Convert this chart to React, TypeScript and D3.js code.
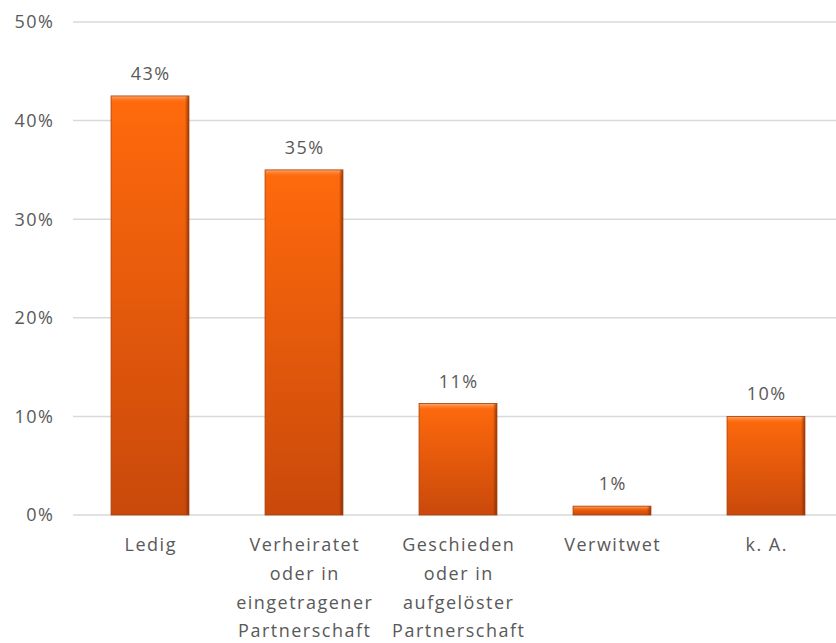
import React from "react";
import * as d3 from "d3";

const categories: string[][] = [
  ["Ledig"],
  ["Verheiratet", "oder in", "eingetragener", "Partnerschaft"],
  ["Geschieden", "oder in", "aufgelöster", "Partnerschaft"],
  ["Verwitwet"],
  ["k. A."],
];
const values: number[] = [0.425, 0.35, 0.113, 0.009, 0.1];
const valueLabels: string[] = ["43%", "35%", "11%", "1%", "10%"];
const yTicks: number[] = [0, 0.1, 0.2, 0.3, 0.4, 0.5];

const W = 836;
const H = 643;
const FONT = "Open Sans, Noto Sans, sans-serif";
const TEXT = "#595959";
const LS = 1.5;

export default function App() {
  const x0 = 73, x1 = 843;
  const y = d3.scaleLinear().domain([0, 0.5]).range([515, 22]);
  const x = d3.scaleBand<number>().domain(values.map((_, i) => i)).range([x0, x1]).paddingInner(0.494).paddingOuter(0.247);
  const bw = x.bandwidth();
  const textProps = { fontFamily: FONT, fontSize: 18, fill: TEXT, letterSpacing: LS };
  return (
    <svg width={W} height={H} style={{ position: "absolute", left: 0, top: 0, background: "#fff" }}>
      <defs>
        <linearGradient id="barG" x1="0" y1="0" x2="0" y2="1">
          <stop offset="0" stopColor="#ff6a0c" />
          <stop offset="1" stopColor="#c9490b" />
        </linearGradient>
        <linearGradient id="topBevel" x1="0" y1="0" x2="0" y2="1">
          <stop offset="0" stopColor="#ffb07a" stopOpacity="0.9" />
          <stop offset="1" stopColor="#ff6a0c" stopOpacity="0" />
        </linearGradient>
        <linearGradient id="rightEdge" x1="0" y1="0" x2="1" y2="0">
          <stop offset="0" stopColor="#7a2a05" stopOpacity="0" />
          <stop offset="1" stopColor="#7a2a05" stopOpacity="0.8" />
        </linearGradient>
      </defs>
      {yTicks.map((t) => (
        <g key={t}>
          <line x1={x0} x2={W} y1={y(t)} y2={y(t)} stroke="#d9d9d9" strokeWidth={1.5} />
          <text x={53 + LS} y={y(t)} dy="0.35em" textAnchor="end" {...textProps}>
            {d3.format(".0%")(t)}
          </text>
        </g>
      ))}
      {values.map((v, i) => {
        const bx = x(i)!;
        const top = y(v);
        const h = y(0) - top;
        const bev = Math.min(7, h / 2);
        const cx = bx + bw / 2 + LS / 2;
        return (
          <g key={i}>
            <rect x={bx} y={top} width={bw} height={h} fill="url(#barG)" />
            <rect x={bx} y={top} width={bw} height={bev} fill="url(#topBevel)" />
            <rect x={bx + bw - 4} y={top} width={4} height={h} fill="url(#rightEdge)" />
            <rect x={bx} y={top} width={bw} height={h} fill="none" stroke="#a8400a" strokeWidth={0.8} />
            <text x={cx} y={top - 16} textAnchor="middle" {...textProps}>
              {valueLabels[i]}
            </text>
            {categories[i].map((line, j) => (
              <text key={j} x={cx} y={551 + j * 28.8} textAnchor="middle" {...textProps}>
                {line}
              </text>
            ))}
          </g>
        );
      })}
    </svg>
  );
}
